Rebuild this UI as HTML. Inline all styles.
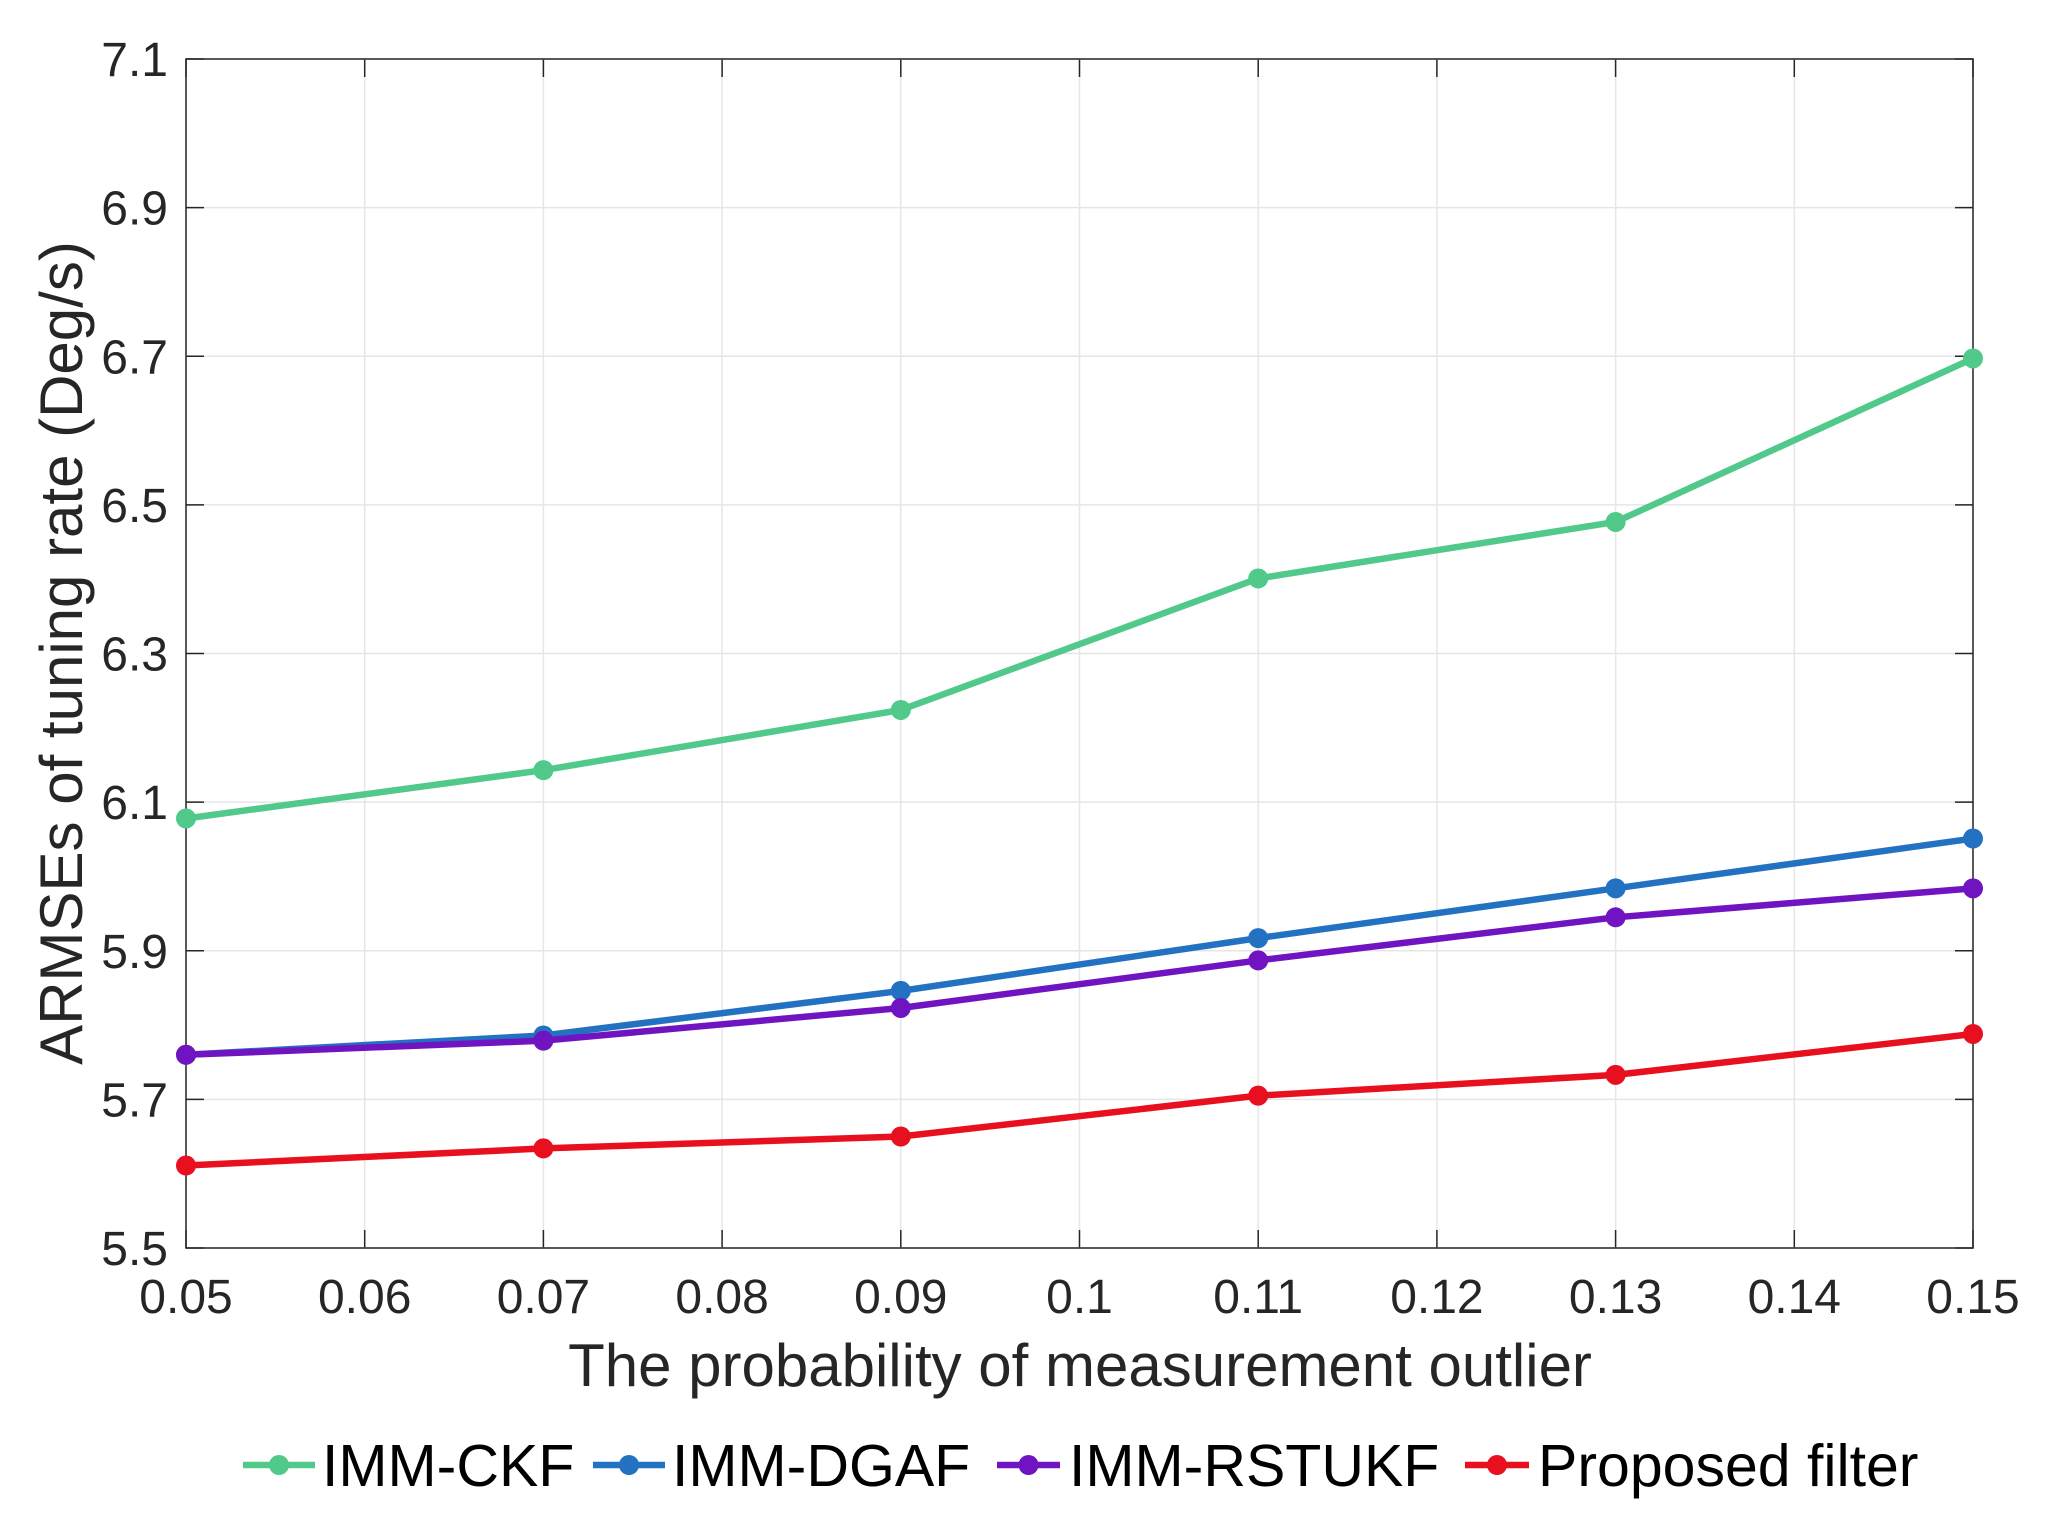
<!DOCTYPE html>
<html><head><meta charset="utf-8"><style>
html,body{margin:0;padding:0;background:#fff;}
svg{display:block;font-family:"Liberation Sans",sans-serif;}
</style></head><body>
<svg id="chart" width="2057" height="1518" viewBox="0 0 2057 1518" xmlns="http://www.w3.org/2000/svg"></svg>
<script>
const xValues=[0.05,0.07,0.09,0.11,0.13,0.15];
const xTicks=[0.05,0.06,0.07,0.08,0.09,0.1,0.11,0.12,0.13,0.14,0.15];
const xTickLabels=["0.05","0.06","0.07","0.08","0.09","0.1","0.11","0.12","0.13","0.14","0.15"];
const yTicks=[5.5,5.7,5.9,6.1,6.3,6.5,6.7,6.9,7.1];
const yTickLabels=["5.5","5.7","5.9","6.1","6.3","6.5","6.7","6.9","7.1"];
const seriesNames=["IMM-CKF","IMM-DGAF","IMM-RSTUKF","Proposed filter"];
const ckf=[6.078,6.143,6.224,6.401,6.477,6.697];
const dgaf=[5.760,5.786,5.846,5.917,5.984,6.051];
const rstukf=[5.760,5.779,5.823,5.887,5.945,5.984];
const proposed=[5.611,5.634,5.650,5.705,5.733,5.788];

const NS="http://www.w3.org/2000/svg";
const svg=document.getElementById('chart');
const L=186,R=1973,T=59,B=1248;
const xMin=0.05,xMax=0.15,yMin=5.5,yMax=7.1;
const sx=v=>L+(v-xMin)/(xMax-xMin)*(R-L);
const sy=v=>B-(v-yMin)/(yMax-yMin)*(B-T);
function mk(tag,attrs){const e=document.createElementNS(NS,tag);for(const k in attrs)e.setAttribute(k,attrs[k]);svg.appendChild(e);return e;}

let bg=mk('rect',{x:L,y:T,width:R-L,height:B-T,fill:'#fff'});



xTicks.forEach((v,i)=>{
  const x=sx(v);
  let g=mk('line',{x1:x,y1:T,x2:x,y2:B,stroke:'#e6e6e6','stroke-width':1.5});
  
  
  mk('line',{x1:x,y1:B,x2:x,y2:B-18,stroke:'#262626','stroke-width':1.5});
  mk('line',{x1:x,y1:T,x2:x,y2:T+18,stroke:'#262626','stroke-width':1.5});
  let t=mk('text',{x:x,y:1313,'text-anchor':'middle','font-size':48,fill:'#262626'});
  t.textContent=xTickLabels[i];
  
  
});
yTicks.forEach((v,i)=>{
  const y=sy(v);
  let g=mk('line',{x1:L,y1:y,x2:R,y2:y,stroke:'#e6e6e6','stroke-width':1.5});
  
  
  mk('line',{x1:L,y1:y,x2:L+18,y2:y,stroke:'#262626','stroke-width':1.5});
  mk('line',{x1:R,y1:y,x2:R-18,y2:y,stroke:'#262626','stroke-width':1.5});
  let t=mk('text',{x:168,y:y+17,'text-anchor':'end','font-size':48,fill:'#262626'});
  t.textContent=yTickLabels[i];
  
  
});
let fr=mk('rect',{x:L,y:T,width:R-L,height:B-T,fill:'none',stroke:'#262626','stroke-width':1.5});



const allSeries=[ckf,dgaf,rstukf,proposed];
const colors=['#50c98b','#2372c2','#7014c2','#e8101e'];
allSeries.forEach((s,k)=>{
  const pts=s.map((v,i)=>sx(xValues[i])+','+sy(v)).join(' ');
  let pl=mk('polyline',{points:pts,fill:'none',stroke:colors[k],'stroke-width':6.5,'stroke-linejoin':'round'});
  
  
  s.forEach((v,i)=>{
    let c=mk('circle',{cx:sx(xValues[i]),cy:sy(v),r:10,fill:colors[k]});
    
    
  });
});

let xl=mk('text',{x:1080,y:1386,'text-anchor':'middle','font-size':60,fill:'#262626'});
xl.textContent='The probability of measurement outlier';


let yl=mk('text',{x:0,y:0,'text-anchor':'middle','font-size':60,fill:'#262626',transform:'translate(82,653) rotate(-90)'});
yl.textContent='ARMSEs of tuning rate (Deg/s)';



const legLine=[[243,315],[593,665],[997,1060],[1465,1529]];
const legText=[322,672,1069,1538];
seriesNames.forEach((n,k)=>{
  let l=mk('line',{x1:legLine[k][0],y1:1465,x2:legLine[k][1],y2:1465,stroke:colors[k],'stroke-width':6.5});
  
  
  let c=mk('circle',{cx:(legLine[k][0]+legLine[k][1])/2,cy:1465,r:10,fill:colors[k]});
  
  
  let t=mk('text',{x:legText[k],y:1486,'font-size':59,fill:'#000'});
  t.textContent=n;
  
  
});
</script>
</body></html>
